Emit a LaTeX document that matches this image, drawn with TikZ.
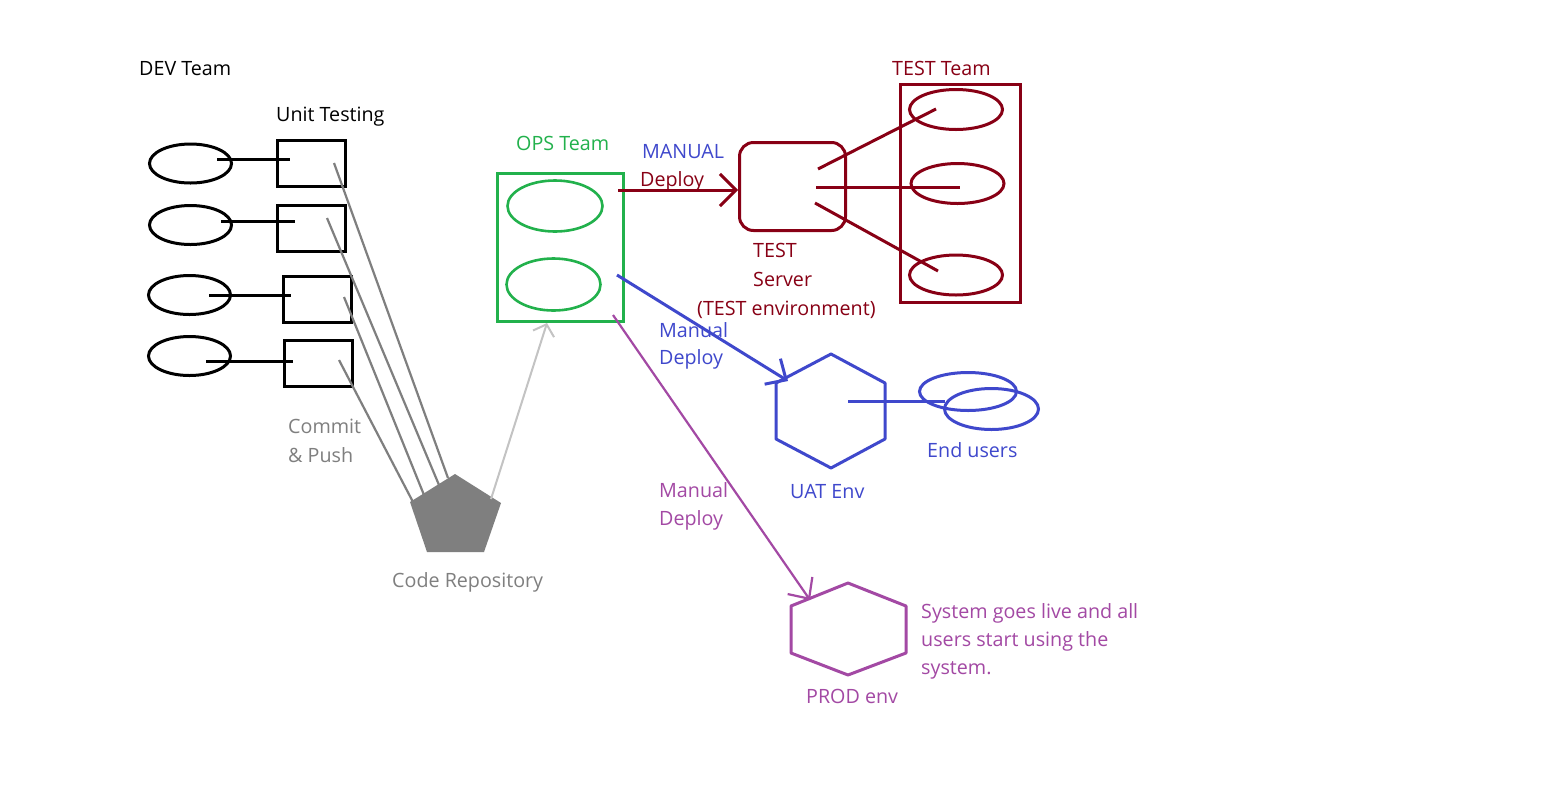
\documentclass[tikz,border=0pt]{standalone}
\usepackage{fontspec}
\setmainfont{Open Sans}
\usetikzlibrary{shapes.geometric,arrows.meta}
\definecolor{cgray}{RGB}{127,127,127}
\definecolor{clgray}{RGB}{195,195,195}
\definecolor{cgreen}{RGB}{34,177,76}
\definecolor{cred}{RGB}{136,0,21}
\definecolor{cblue}{RGB}{63,72,204}
\definecolor{cpurple}{RGB}{163,73,164}
\begin{document}
\begin{tikzpicture}[x=1pt,y=-1pt,
  lbl/.style={anchor=base west,inner sep=0pt,font=\fontsize{19.7}{28}\selectfont},
  devell/.style={ellipse,draw,line width=3pt,inner sep=0pt,minimum width=82pt,minimum height=39pt},
  devbox/.style={rectangle,draw,line width=3pt,inner sep=0pt,minimum width=68pt,minimum height=46pt},
  devline/.style={line width=3pt},
  commit/.style={cgray,line width=2.2pt},
  opsell/.style={ellipse,draw=cgreen,line width=2.6pt,inner sep=0pt,minimum width=95pt,minimum height=51pt},
  testell/.style={ellipse,draw=cred,line width=3pt,inner sep=0pt,minimum width=93pt,minimum height=40pt},
  userell/.style={ellipse,draw=cblue,line width=3pt,inner sep=0pt},
  redline/.style={cred,line width=3pt},
]
\useasboundingbox[fill=white] (0,0) rectangle (1547,796);

% ---------------- DEV team ----------------
\node[lbl] (devlbl) at (139,75) {DEV Team};
\node[lbl] (utlbl) at (276,121) {Unit Testing};

\node[devell] (e1) at (190.5,163.5) {};
\node[devell] (e2) at (190.5,225) {};
\node[devell] (e3) at (189.5,295) {};
\node[devell] (e4) at (189.5,356) {};

\node[devbox] (b1) at (311.5,163.5) {};
\node[devbox] (b2) at (311.5,228.5) {};
\node[devbox] (b3) at (317.5,299.5) {};
\node[devbox] (b4) at (318.5,363.5) {};

\coordinate (e1s) at (217,159); \coordinate (b1e) at (290,159);
\coordinate (e2s) at (221,221); \coordinate (b2e) at (295,221);
\coordinate (e3s) at (209,295); \coordinate (b3e) at (291,295);
\coordinate (e4s) at (206,361); \coordinate (b4e) at (293,361);
\draw[devline] (e1s) -- (b1e);
\draw[devline] (e2s) -- (b2e);
\draw[devline] (e3s) -- (b3e);
\draw[devline] (e4s) -- (b4e);

% ---------------- code repository ----------------
\fill[cgray] (455,474) -- (501,503) -- (484,552) -- (427,552) -- (410,502) -- cycle;
\coordinate (repo) at (455,515);
\coordinate (b1c) at (334,163); \coordinate (r1) at (448,478);
\coordinate (b2c) at (327,218); \coordinate (r2) at (439,485);
\coordinate (b3c) at (344,297); \coordinate (r3) at (424,495);
\coordinate (b4c) at (339,360); \coordinate (r4) at (413,502);
\draw[commit] (b1c) -- (r1);
\draw[commit] (b2c) -- (r2);
\draw[commit] (b3c) -- (r3);
\draw[commit] (b4c) -- (r4);

\node[lbl,cgray] (cp1) at (288,433) {Commit};
\node[lbl,cgray] (cp2) at (288,462) {\& Push};
\node[lbl,cgray] (crlbl) at (392,587) {Code Repository};

% ---------------- OPS team ----------------
\node[lbl,cgreen] (opslbl) at (516,150) {OPS Team};
\node[rectangle,draw=cgreen,line width=2.7pt,inner sep=0pt,minimum width=126pt,minimum height=148pt] (ops) at (560.5,247.5) {};
\node[opsell] (o1) at (555,206) {};
\node[opsell,minimum width=94pt,minimum height=52pt] (o2) at (553.5,284.5) {};

\coordinate (rs) at (491,499); \coordinate (opsb) at (547,323);
\draw[clgray,line width=2pt,-{Straight Barb[length=10pt,width=22pt]}] (rs) -- (opsb);

% ---------------- TEST server ----------------
\node[lbl,cblue] (manual1) at (642,158) {MANUAL};
\node[lbl,cred] (deploy1) at (640,186) {Deploy};
\node[rectangle,rounded corners=14pt,draw=cred,line width=3pt,inner sep=0pt,minimum width=106pt,minimum height=88pt] (srv) at (792.5,186.5) {};
\coordinate (ops1) at (618,190);
\draw[redline,-{Straight Barb[length=16pt,width=32pt]}] (ops1) -- (srv.west |- ops1);

\node[lbl,cred] (testlbl) at (753,257) {TEST};
\node[lbl,cred] (serverlbl) at (753,286) {Server};
\node[lbl,cred] (envlbl) at (697,315) {(TEST environment)};

% ---------------- TEST team ----------------
\node[lbl,cred] (ttlbl) at (892,75) {TEST Team};
\node[rectangle,draw=cred,line width=3pt,inner sep=0pt,minimum width=120pt,minimum height=218pt] (tt) at (960.5,193.5) {};
\node[testell] (t1) at (956,109.5) {};
\node[testell] (t2) at (957.5,183.5) {};
\node[testell] (t3) at (956,275) {};
\coordinate (s1) at (818,169); \coordinate (t1e) at (936,109);
\coordinate (s2) at (816,187); \coordinate (t2e) at (960,187);
\coordinate (s3) at (815,203); \coordinate (t3e) at (938,271);
\draw[redline] (s1) -- (t1e);
\draw[redline] (s2) -- (t2e);
\draw[redline] (s3) -- (t3e);

% ---------------- UAT ----------------
\draw[cblue,line width=3pt,line join=round] (831,354) -- (885,383) -- (885,439) -- (831,468) -- (776,439) -- (776,383) -- cycle;
\coordinate (uat) at (830.5,411);
\coordinate (uatin) at (788,381);
\coordinate (ops2) at (617,275);
\draw[cblue,line width=3pt,-{Straight Barb[length=16pt,width=30pt]}] (ops2) -- (uatin);
\node[lbl,cblue] (manual2) at (659,337) {Manual};
\node[lbl,cblue] (deploy2) at (659,364) {Deploy};
\node[lbl,cblue] (uatlbl) at (790,498) {UAT Env};

\node[userell,minimum width=97pt,minimum height=38pt] (u1) at (968,391.5) {};
\node[userell,minimum width=94pt,minimum height=41pt] (u2) at (991.5,409) {};
\coordinate (uatc) at (848,401); \coordinate (u1e) at (945,401);
\draw[cblue,line width=3pt] (uatc) -- (u1e);
\node[lbl,cblue] (eulbl) at (927,457) {End users};

% ---------------- PROD ----------------
\draw[cpurple,line width=3pt,line join=round] (848,583) -- (906,606) -- (906,653) -- (848,675) -- (791,653) -- (791,606) -- cycle;
\coordinate (prod) at (848.5,629);
\coordinate (prodin) at (810,600);
\coordinate (ops3) at (613,315);
\draw[cpurple,line width=2.2pt,-{Straight Barb[length=16pt,width=30pt]}] (ops3) -- (prodin);
\node[lbl,cpurple] (manual3) at (659,497) {Manual};
\node[lbl,cpurple] (deploy3) at (659,525) {Deploy};
\node[lbl,cpurple] (prodlbl) at (806,703) {PROD env};
\node[lbl,cpurple,align=left] (livelbl) at (921,674) {System goes live and all\\users start using the\\system.};

\end{tikzpicture}
\end{document}
